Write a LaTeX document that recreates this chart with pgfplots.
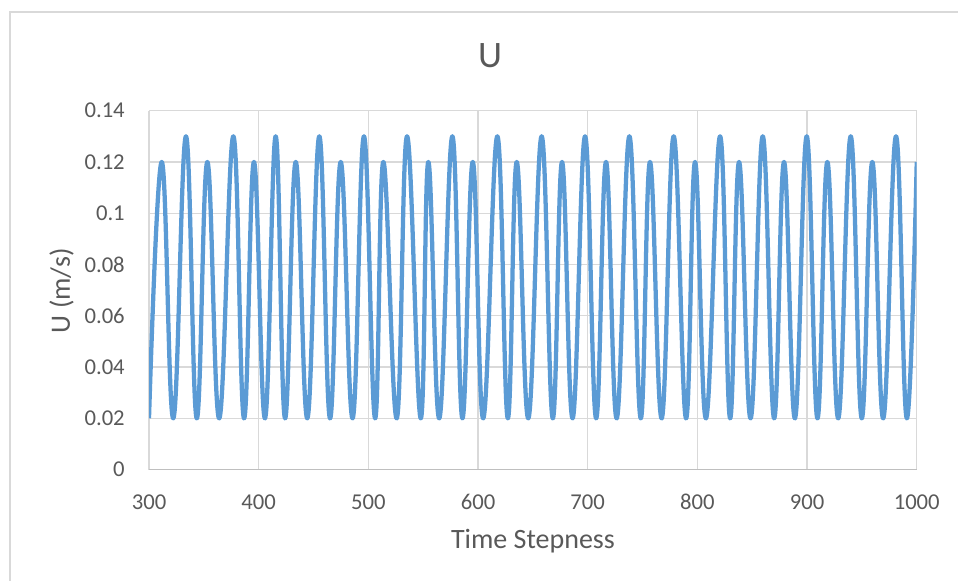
\documentclass[border=0pt]{standalone}
\usepackage{pgfplots}
\pgfplotsset{compat=1.18}
\usepackage{fontspec}
\setmainfont{Carlito}
\definecolor{gridgray}{HTML}{D9D9D9}
\definecolor{axisgray}{HTML}{BFBFBF}
\definecolor{txtgray}{HTML}{595959}
\definecolor{lineblue}{HTML}{5B9BD5}
\begin{document}
\begin{tikzpicture}
\useasboundingbox (0,0) rectangle (718.5pt,435.75pt);
\draw[gridgray, line width=1.1pt] (7.5pt,-2pt) -- (7.5pt,426.75pt) -- (720pt,426.75pt);
\begin{axis}[
  at={(111.75pt,83.55pt)}, anchor=south west,
  scale only axis, width=575.8pt, height=269.2pt,
  xmin=300, xmax=1000, ymin=0, ymax=0.14,
  xtick={300,400,500,600,700,800,900,1000},
  ytick={0,0.02,0.04,0.06,0.08,0.1,0.12,0.14},
  axis x line*=bottom, axis y line*=left,
  x axis line style={draw=axisgray, line width=0.9pt, -},
  y axis line style={draw=none},
  major tick length=0pt,
  grid=major,
  major grid style={draw=gridgray, line width=0.9pt},
  /pgf/number format/assume math mode=true,
  /pgf/number format/1000 sep={},
  yticklabel style={/pgf/number format/fixed, /pgf/number format/precision=2, anchor=east, inner sep=0pt, xshift=-18pt, font=\fontsize{17}{20}\selectfont, text=txtgray},
  xticklabel style={anchor=base, inner sep=0pt, yshift=-29.8pt, font=\fontsize{17}{20}\selectfont, text=txtgray},
]
\addplot[color=lineblue, line width=3.2pt, smooth, tension=0.72, line join=round] coordinates {
(300,0.02) (311.6,0.12) (322.2,0.02) (333.7,0.13) (343.5,0.02) (353.2,0.12)
(364.1,0.02) (376.9,0.13) (386.6,0.02) (395.7,0.12) (405.8,0.02) (415.5,0.13)
(424.0,0.02) (433.8,0.12) (444.4,0.02) (455.3,0.13) (465.0,0.02) (474.8,0.12)
(485.7,0.02) (496.0,0.13) (506.1,0.02) (513.7,0.12) (525.9,0.02) (535.3,0.13)
(547.7,0.02) (554.7,0.12) (564.7,0.02) (576.6,0.13) (585.7,0.02) (595.2,0.12)
(604.8,0.02) (617.6,0.13) (627.1,0.02) (635.3,0.12) (645.9,0.02) (658.0,0.13)
(668.1,0.02) (676.6,0.12) (686.3,0.02) (697.6,0.13) (707.6,0.02) (716.7,0.12)
(726.5,0.02) (738.0,0.13) (748.3,0.02) (756.8,0.12) (767.5,0.02) (778.4,0.13)
(789.6,0.02) (797.9,0.12) (807.9,0.02) (820.7,0.13) (829.8,0.02) (838.0,0.12)
(848.6,0.02) (859.6,0.13) (869.9,0.02) (879.0,0.12) (889.0,0.02) (899.7,0.13)
(909.4,0.02) (918.5,0.12) (928.5,0.02) (939.8,0.13) (949.8,0.02) (959.5,0.12)
(969.5,0.02) (981.1,0.13) (990.9,0.02) (1000,0.12)
};
\end{axis}
\node[anchor=base, inner sep=0pt, text=txtgray, font=\fontsize{28}{32}\selectfont] at (367.5pt,385.3pt) {U};
\node[anchor=base, inner sep=0pt, text=txtgray, font=\fontsize{21}{24}\selectfont] at (399.7pt,24.5pt) {Time Stepness};
\node[anchor=base, rotate=90, inner sep=0pt, text=txtgray, font=\fontsize{21}{24}\selectfont] at (52.5pt,217.6pt) {U (m/s)};
\end{tikzpicture}
\end{document}
